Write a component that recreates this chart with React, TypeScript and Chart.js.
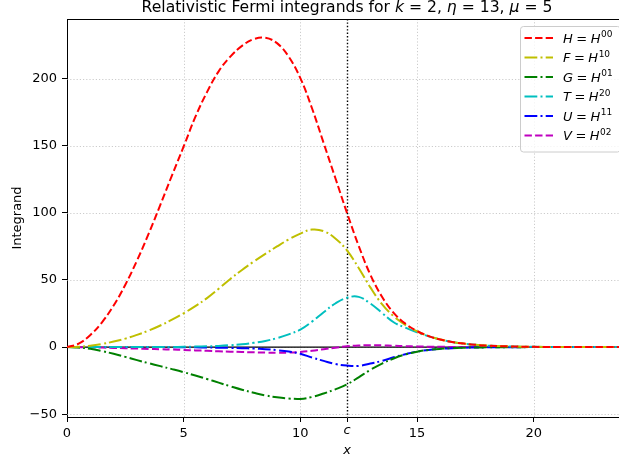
import React, { useEffect, useRef } from 'react';
import { Chart, registerables } from 'chart.js';

Chart.register(...registerables);

// ---- data ----
const X_VALUES = [
  0, 0.5, 1, 1.5, 2, 2.5, 3, 3.5, 4, 4.5, 5, 5.5, 6, 6.5, 7, 7.5, 8, 8.5, 9, 9.5,
  10, 10.5, 11, 11.5, 12, 12.5, 13, 13.5, 14, 14.5, 15, 15.5, 16, 16.5, 17, 17.5, 18,
  19, 20, 21, 22, 23, 24,
];
const H_VALUES = [
  0, 2.5, 9, 18.5, 31, 46.5, 64.5, 84.5, 106, 128, 149.5, 171.5, 190, 205.5, 216.5, 224.5, 229.5, 230.5, 226.5, 216.5,
  200.5, 178, 152, 126, 100, 75.5, 54, 37.5, 25.5, 17.5, 12, 8.2, 5.6, 3.8, 2.6, 1.7, 1.1,
  0.5, 0.2, 0.1, 0, 0, 0,
];
const F_VALUES = [
  0, 0.25, 1, 2.3, 4.1, 6.3, 9.1, 12.3, 16.1, 20.4, 25.2, 30.5, 36.5, 43.5, 50.8, 57.5, 63.7, 69.5, 75, 80.2,
  84.6, 87.6, 86.4, 81, 72, 59, 44.5, 32, 23, 16.5, 11.8, 8.2, 5.7, 3.9, 2.6, 1.7, 1.1,
  0.5, 0.2, 0.1, 0, 0, 0,
];
const G_VALUES = [
  0, -0.4, -1.3, -3, -5, -7.3, -9.7, -12, -14.2, -16.4, -18.7, -21.2, -23.8, -26.5, -29.2, -31.8, -34, -36, -37.4, -38.3,
  -38.6, -37.2, -34.6, -31.5, -27.8, -22.5, -17, -12.3, -8.5, -5.5, -3.4, -2.1, -1.3, -0.8, -0.5, -0.3, -0.2,
  -0.1, 0, 0, 0, 0, 0,
];
const T_VALUES = [
  0, 0, 0, 0, 0, 0, 0, 0.02, 0.05, 0.1, 0.2, 0.35, 0.6, 0.9, 1.4, 2.1, 3.2, 4.6, 6.7, 9.5,
  13, 19, 26, 32.5, 36.8, 37.4, 32.5, 25.5, 18.5, 14.5, 11, 8, 5.6, 3.8, 2.6, 1.7, 1.1,
  0.5, 0.2, 0.1, 0, 0, 0,
];
const U_VALUES = [
  0, 0, 0, 0, 0, 0, 0, 0, 0, -0.05, -0.1, -0.2, -0.3, -0.45, -0.6, -0.8, -1.1, -1.6, -2.3, -3.3,
  -5, -7.8, -10.3, -12.6, -13.8, -14, -12.2, -10.3, -7.6, -5.3, -3.3, -2.1, -1.3, -0.8, -0.5, -0.3, -0.2,
  -0.1, 0, 0, 0, 0, 0,
];
const V_VALUES = [
  0, -0.05, -0.2, -0.4, -0.6, -0.85, -1.1, -1.35, -1.6, -1.85, -2.1, -2.45, -2.8, -3.1, -3.4, -3.7, -3.9, -4.1, -4.2, -4.1,
  -3.6, -2.7, -1.6, -0.5, 0.6, 1.2, 1.4, 1.3, 1.0, 0.7, 0.45, 0.3, 0.2, 0.12, 0.08, 0.05, 0.03,
  0.01, 0, 0, 0, 0, 0,
];

const SERIES_LETTERS = ['H', 'F', 'G', 'T', 'U', 'V'];
const SERIES_SUPERSCRIPTS = ['00', '10', '01', '20', '11', '02'];
const SERIES_COLORS = ['#ff0000', '#bfbf00', '#008000', '#00bfbf', '#0000ff', '#bf00bf'];
const SERIES_STYLES = ['dashed', 'dashdot', 'dashdot', 'dashdot', 'dashdot', 'dashed'];
const SERIES_VALUES = [H_VALUES, F_VALUES, G_VALUES, T_VALUES, U_VALUES, V_VALUES];

const X_TICKS = [0, 5, 10, 12, 15, 20];
const Y_TICKS = [-50, 0, 50, 100, 150, 200];
const C_VALUE = 12;
const X_MIN = 0;
const X_MAX = 24;
const Y_MIN = -52.1;
const Y_MAX = 244.5;

const TITLE_PARTS: [string, boolean][] = [
  ['Relativistic Fermi integrands for ', false],
  ['k', true],
  [' = 2, ', false],
  ['η', true],
  [' = 13, ', false],
  ['μ', true],
  [' = 5', false],
];

// ---- styling ----
const FAMILY = '"DejaVu Sans", sans-serif';
const DASHES: Record<string, number[]> = {
  dashed: [7.4, 3.2],
  dashdot: [12.8, 3.2, 2, 3.2],
};

const overlayPlugin = {
  id: 'overlay',
  beforeDatasetsDraw(chart: any) {
    const { ctx, chartArea } = chart;
    const xs = chart.scales.x;
    const ys = chart.scales.y;
    ctx.save();
    // dotted grid
    ctx.strokeStyle = 'rgba(176,176,176,0.65)';
    ctx.lineWidth = 1;
    ctx.setLineDash([1.2, 2]);
    X_TICKS.forEach((v) => {
      if (v === C_VALUE || v === X_MIN) return;
      const px = Math.round(xs.getPixelForValue(v)) + 0.5;
      ctx.beginPath();
      ctx.moveTo(px, chartArea.top);
      ctx.lineTo(px, chartArea.bottom);
      ctx.stroke();
    });
    Y_TICKS.forEach((v) => {
      const py = Math.round(ys.getPixelForValue(v)) + 0.5;
      ctx.beginPath();
      ctx.moveTo(chartArea.left, py);
      ctx.lineTo(chartArea.right, py);
      ctx.stroke();
    });
    // zero line
    ctx.setLineDash([]);
    ctx.strokeStyle = '#000';
    ctx.lineWidth = 1.3;
    const y0 = ys.getPixelForValue(0);
    ctx.beginPath();
    ctx.moveTo(chartArea.left, y0);
    ctx.lineTo(chartArea.right, y0);
    ctx.stroke();
    // c line
    const xc = Math.round(xs.getPixelForValue(C_VALUE)) + 0.5;
    ctx.setLineDash([1.4, 2]);
    ctx.lineWidth = 1.4;
    ctx.beginPath();
    ctx.moveTo(xc, chartArea.top);
    ctx.lineTo(xc, chartArea.bottom);
    ctx.stroke();
    // top spine
    ctx.setLineDash([]);
    ctx.lineWidth = 1;
    ctx.strokeStyle = '#000';
    ctx.beginPath();
    ctx.moveTo(chartArea.left, Math.round(chartArea.top) + 0.5);
    ctx.lineTo(chartArea.right, Math.round(chartArea.top) + 0.5);
    ctx.stroke();
    ctx.restore();
  },
  afterDraw(chart: any) {
    const { ctx, chartArea } = chart;
    const xs = chart.scales.x;
    ctx.save();
    ctx.fillStyle = '#000';
    ctx.textBaseline = 'alphabetic';
    ctx.textAlign = 'left';

    // "c" tick label
    ctx.font = `italic 13px ${FAMILY}`;
    const cw = ctx.measureText('c').width;
    ctx.fillText('c', xs.getPixelForValue(C_VALUE) - cw / 2, 433.5);

    // title
    const measure = (size: number) => {
      let w = 0;
      TITLE_PARTS.forEach(([t, it]) => {
        ctx.font = `${it ? 'italic ' : ''}${size}px ${FAMILY}`;
        w += ctx.measureText(t).width;
      });
      return w;
    };
    const baseW = measure(16);
    const size = 16 * (411 / baseW);
    const totalW = measure(size);
    let tx = (chartArea.left + chartArea.right) / 2 - totalW / 2;
    TITLE_PARTS.forEach(([t, it]) => {
      ctx.font = `${it ? 'italic ' : ''}${size}px ${FAMILY}`;
      ctx.fillText(t, tx, 11.5);
      tx += ctx.measureText(t).width;
    });

    // legend
    const bx = 520.5, by = 26.5, bw = 100, bh = 125.5, r = 3;
    ctx.beginPath();
    ctx.moveTo(bx + r, by);
    ctx.lineTo(bx + bw - r, by);
    ctx.arcTo(bx + bw, by, bx + bw, by + r, r);
    ctx.lineTo(bx + bw, by + bh - r);
    ctx.arcTo(bx + bw, by + bh, bx + bw - r, by + bh, r);
    ctx.lineTo(bx + r, by + bh);
    ctx.arcTo(bx, by + bh, bx, by + bh - r, r);
    ctx.lineTo(bx, by + r);
    ctx.arcTo(bx, by, bx + r, by, r);
    ctx.closePath();
    ctx.fillStyle = 'rgba(255,255,255,0.8)';
    ctx.fill();
    ctx.strokeStyle = '#cccccc';
    ctx.lineWidth = 1;
    ctx.stroke();

    SERIES_LETTERS.forEach((letter, i) => {
      const ry = 38 + i * 19.5;
      ctx.strokeStyle = SERIES_COLORS[i];
      ctx.lineWidth = 2;
      ctx.setLineDash(DASHES[SERIES_STYLES[i]]);
      ctx.beginPath();
      ctx.moveTo(524.5, ry);
      ctx.lineTo(553, ry);
      ctx.stroke();
      ctx.setLineDash([]);

      ctx.fillStyle = '#000';
      const base = ry + 4.7;
      let x = 563;
      ctx.font = `italic 13px ${FAMILY}`;
      ctx.fillText(letter, x, base);
      x += ctx.measureText(letter).width + 3.5;
      ctx.font = `13px ${FAMILY}`;
      ctx.fillText('=', x, base);
      x += ctx.measureText('=').width + 3.5;
      ctx.font = `italic 13px ${FAMILY}`;
      ctx.fillText('H', x, base);
      x += ctx.measureText('H').width + 0.5;
      ctx.font = `9px ${FAMILY}`;
      ctx.fillText(SERIES_SUPERSCRIPTS[i], x, base - 5.5);
    });
    ctx.restore();
  },
};

export default function App() {
  const ref = useRef<HTMLCanvasElement>(null);
  useEffect(() => {
    const canvas = ref.current;
    if (!canvas) return;
    const datasets = SERIES_LETTERS.map((letter, i) => ({
      label: `${letter} = H${SERIES_SUPERSCRIPTS[i]}`,
      data: X_VALUES.map((x, j) => ({ x, y: SERIES_VALUES[i][j] })),
      borderColor: SERIES_COLORS[i],
      backgroundColor: SERIES_COLORS[i],
      borderWidth: 2,
      borderDash: DASHES[SERIES_STYLES[i]],
      pointRadius: 0,
      fill: false,
      tension: 0.4,
    }));
    const tickFont = { family: FAMILY, size: 13 };
    const chart = new Chart(canvas, {
      type: 'line',
      data: { datasets },
      options: {
        responsive: false,
        animation: false,
        devicePixelRatio: 1,
        layout: { padding: { top: 19, right: 13, left: 0, bottom: 0 } },
        plugins: {
          legend: { display: false },
          title: { display: false },
          tooltip: { enabled: false },
        },
        scales: {
          x: {
            type: 'linear',
            min: X_MIN,
            max: X_MAX,
            afterBuildTicks: (s: any) => {
              s.ticks = X_TICKS.map((v) => ({ value: v }));
            },
            afterFit: (s: any) => {
              s.height = 48;
            },
            ticks: {
              callback: (v: any) => (v === C_VALUE ? '' : String(v)),
              font: tickFont,
              color: '#000',
              padding: 4,
              maxRotation: 0,
              autoSkip: false,
            },
            grid: { drawOnChartArea: false, tickLength: 5, tickColor: '#000', tickWidth: 1 },
            border: { color: '#000', width: 1 },
            title: {
              display: true,
              text: 'x',
              color: '#000',
              font: { family: FAMILY, size: 13, style: 'italic' },
              padding: { top: 0, bottom: 6.5 },
            },
          },
          y: {
            type: 'linear',
            min: Y_MIN,
            max: Y_MAX,
            afterBuildTicks: (s: any) => {
              s.ticks = Y_TICKS.map((v) => ({ value: v }));
            },
            afterFit: (s: any) => {
              s.width = 67;
            },
            ticks: {
              callback: (v: any) => (v < 0 ? '\u2212' + Math.abs(v) : String(v)),
              font: tickFont,
              color: '#000',
              padding: 5,
              autoSkip: false,
            },
            grid: { drawOnChartArea: false, tickLength: 5, tickColor: '#000', tickWidth: 1 },
            border: { color: '#000', width: 1 },
            title: {
              display: true,
              text: 'Integrand',
              color: '#000',
              font: { family: FAMILY, size: 13 },
              padding: { top: 9.5, bottom: 0 },
            },
          },
        },
      },
      plugins: [overlayPlugin],
    });
    return () => chart.destroy();
  }, []);

  return (
    <div
      style={{
        position: 'fixed',
        left: 0,
        top: 0,
        width: 619,
        height: 465,
        overflow: 'hidden',
        background: '#fff',
      }}
    >
      <canvas ref={ref} width={640} height={465} style={{ display: 'block' }} />
    </div>
  );
}
